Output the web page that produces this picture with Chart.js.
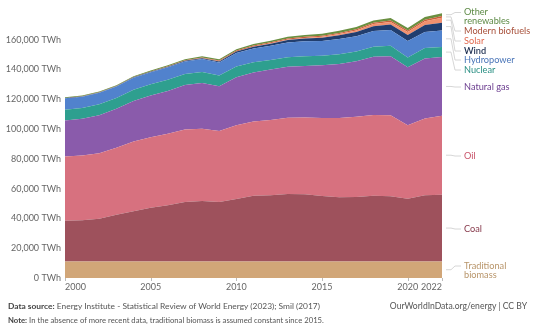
<!DOCTYPE html>
<html>
<head>
<meta charset="utf-8">
<script src="https://cdn.jsdelivr.net/npm/chart.js@4.4.0/dist/chart.umd.min.js"></script>
<style>
  html, body { margin: 0; padding: 0; background: #fff; }
  #wrap { position: relative; width: 535px; height: 331px; }
  canvas { position: absolute; left: 0; top: 0; }
  .foot { position: absolute; font-family: Lato, sans-serif; color: #555; white-space: nowrap; }
  .foot b { color: #444; }
</style>
</head>
<body>
<div id="wrap">
  <canvas id="chart" width="535" height="331"></canvas>
  <div class="foot" style="left:8px; top:301px; font-size:8.4px;"><b>Data source:</b> Energy Institute - Statistical Review of World Energy (2023); Smil (2017)</div>
  <div class="foot" style="right:8px; top:301px; font-size:8.6px;">OurWorldInData.org/energy | CC BY</div>
  <div class="foot" style="left:8px; top:315px; font-size:7.7px;"><b>Note:</b> In the absence of more recent data, traditional biomass is assumed constant since 2015.</div>
</div>
<script>
// Data (TWh)
var years = [2000, 2001, 2002, 2003, 2004, 2005, 2006, 2007, 2008, 2009, 2010, 2011,
             2012, 2013, 2014, 2015, 2016, 2017, 2018, 2019, 2020, 2021, 2022];
var tradBiomass = [11110, 11110, 11110, 11110, 11110, 11110, 11110, 11110, 11110, 11110, 11110, 11110,
                   11110, 11110, 11110, 11110, 11110, 11110, 11110, 11110, 11110, 11110, 11110];
var coal = [27310, 27670, 28700, 31390, 33750, 36000, 37780, 39890, 40610, 39970, 42000, 44110,
            44420, 45250, 45110, 43920, 43200, 43360, 44060, 43780, 42060, 44470, 44860];
var oil = [43230, 43500, 44030, 44980, 46780, 47480, 48000, 48670, 48450, 47590, 49420, 49890,
           50640, 51200, 51560, 52480, 53170, 53780, 54230, 54340, 49480, 51530, 52980];
var gas = [24140, 24610, 25420, 26140, 27250, 28060, 28750, 29970, 30810, 30090, 32280, 32950,
           33810, 34250, 34560, 35340, 36280, 37310, 39250, 39750, 38840, 40360, 39420];
var nuclear = [7170, 7340, 7460, 7270, 7580, 7450, 7510, 7350, 7300, 7170, 7220, 6880,
               6400, 6430, 6540, 6500, 6570, 6600, 6740, 6970, 6680, 6930, 6700];
var hydro = [7800, 7550, 7700, 7700, 8050, 8150, 8400, 8450, 8800, 8800, 9150, 9250,
             9650, 9920, 10100, 9900, 10250, 10200, 10550, 10700, 11050, 10900, 11150];
var wind = [86, 105, 144, 173, 232, 280, 356, 455, 583, 723, 902, 1130,
            1345, 1635, 1797, 2100, 2413, 2838, 3165, 3530, 3960, 4570, 5300];
var solar = [3, 4, 5, 7, 10, 12, 16, 21, 33, 52, 83, 165,
             254, 355, 484, 648, 823, 1113, 1430, 1750, 2090, 2540, 3300];
var biofuels = [110, 120, 140, 170, 190, 220, 280, 360, 470, 530, 600, 620,
                630, 680, 740, 770, 790, 830, 900, 970, 900, 990, 1100];
var otherRen = [490, 500, 530, 560, 600, 620, 650, 700, 760, 820, 930, 1000,
                1090, 1180, 1270, 1340, 1400, 1480, 1580, 1650, 1740, 1830, 1870];
var yTicks = [0, 20000, 40000, 60000, 80000, 100000, 120000, 140000, 160000];
var xTickYears = [2000, 2005, 2010, 2015, 2020, 2022];

// series: bottom to top
var series = [
  { name: ['Traditional', 'biomass'], data: tradBiomass, fill: '#d1a678', text: '#b8956a', labelY: 270 },
  { name: ['Coal'], data: coal, fill: '#9e515c', text: '#86384a', labelY: 229 },
  { name: ['Oil'], data: oil, fill: '#d7717f', text: '#c9546a', labelY: 156 },
  { name: ['Natural gas'], data: gas, fill: '#8a5bab', text: '#6b3d8f', labelY: 87 },
  { name: ['Nuclear'], data: nuclear, fill: '#2e9f8f', text: '#2a8f83', labelY: 70 },
  { name: ['Hydropower'], data: hydro, fill: '#5182cd', text: '#4a75b8', labelY: 60 },
  { name: ['Wind'], data: wind, fill: '#213e6f', text: '#1c2d4f', labelY: 51 },
  { name: ['Solar'], data: solar, fill: '#f2906e', text: '#e2694f', labelY: 41 },
  { name: ['Modern biofuels'], data: biofuels, fill: '#c9603a', text: '#a8503a', labelY: 31 },
  { name: ['Other', 'renewables'], data: otherRen, fill: '#6a8f40', text: '#5d8a45', labelY: 16.5 }
];

var datasets = series.map(function (s, i) {
  return {
    label: s.name.join(' '),
    data: s.data,
    backgroundColor: s.fill,
    borderColor: s.fill,
    borderWidth: 0,
    pointRadius: 0,
    fill: i === 0 ? 'origin' : '-1'
  };
});

// x labels, tick marks and the right-hand labels
var decor = {
  id: 'decor',
  afterDraw: function (chart) {
    var ctx = chart.ctx;
    var xs = chart.scales.x, ys = chart.scales.y;
    var area = chart.chartArea;
    ctx.save();
    ctx.font = '9px Lato';
    ctx.fillStyle = '#666';
    ctx.textBaseline = 'middle';
    xTickYears.forEach(function (yr, i) {
      var x = xs.getPixelForValue(years.indexOf(yr));
      ctx.strokeStyle = '#bbb';
      ctx.lineWidth = 1;
      ctx.beginPath();
      ctx.moveTo(Math.round(x) + 0.5, area.bottom);
      ctx.lineTo(Math.round(x) + 0.5, area.bottom + 3);
      ctx.stroke();
      ctx.textAlign = i === 0 ? 'left' : (yr === 2022 ? 'right' : 'center');
      ctx.fillText(String(yr), x, area.bottom + 9);
    });

    // labels on the right with leader lines
    var last = years.length - 1;
    var cum = 0;
    var xEnd = xs.getPixelForValue(last);
    series.forEach(function (s) {
      var mid = cum + s.data[last] / 2;
      cum += s.data[last];
      var yd = ys.getPixelForValue(mid);
      var n = s.name.length;
      var yl = s.labelY;
      var lineY = n > 1 ? yl - 4 : yl;
      ctx.strokeStyle = '#ccc';
      ctx.lineWidth = 0.8;
      ctx.beginPath();
      ctx.moveTo(xEnd + 4, yd);
      ctx.lineTo(xEnd + 9, yd);
      ctx.lineTo(xEnd + 13, lineY);
      ctx.lineTo(xEnd + 19, lineY);
      ctx.stroke();
      ctx.fillStyle = s.text;
      ctx.font = (s.name[0] === 'Wind' ? '600 ' : '') + '9.2px Lato';
      ctx.textAlign = 'left';
      s.name.forEach(function (line, j) {
        ctx.fillText(line, xEnd + 22, lineY + j * 9);
      });
    });
    ctx.restore();
  }
};

var ctx = document.getElementById('chart').getContext('2d');
var chart = new Chart(ctx, {
  type: 'line',
  data: { labels: years, datasets: datasets },
  options: {
    responsive: false,
    animation: false,
    layout: { padding: { left: 0, right: 93, top: 10, bottom: 53 } },
    elements: { line: { tension: 0 } },
    plugins: { legend: { display: false }, tooltip: { enabled: false } },
    scales: {
      x: { display: false, offset: false },
      y: {
        stacked: true,
        min: 0,
        max: 180000,
        grid: { display: false, drawTicks: false },
        border: { display: false },
        afterBuildTicks: function (scale) {
          scale.ticks = yTicks.map(function (v) { return { value: v }; });
        },
        afterFit: function (scale) { scale.width = 65; },
        ticks: {
          padding: 4,
          color: '#666',
          font: { family: 'Lato', size: 9 },
          callback: function (v) { return v.toLocaleString('en-US') + ' TWh'; }
        }
      }
    }
  },
  plugins: [decor]
});
</script>
</body>
</html>
